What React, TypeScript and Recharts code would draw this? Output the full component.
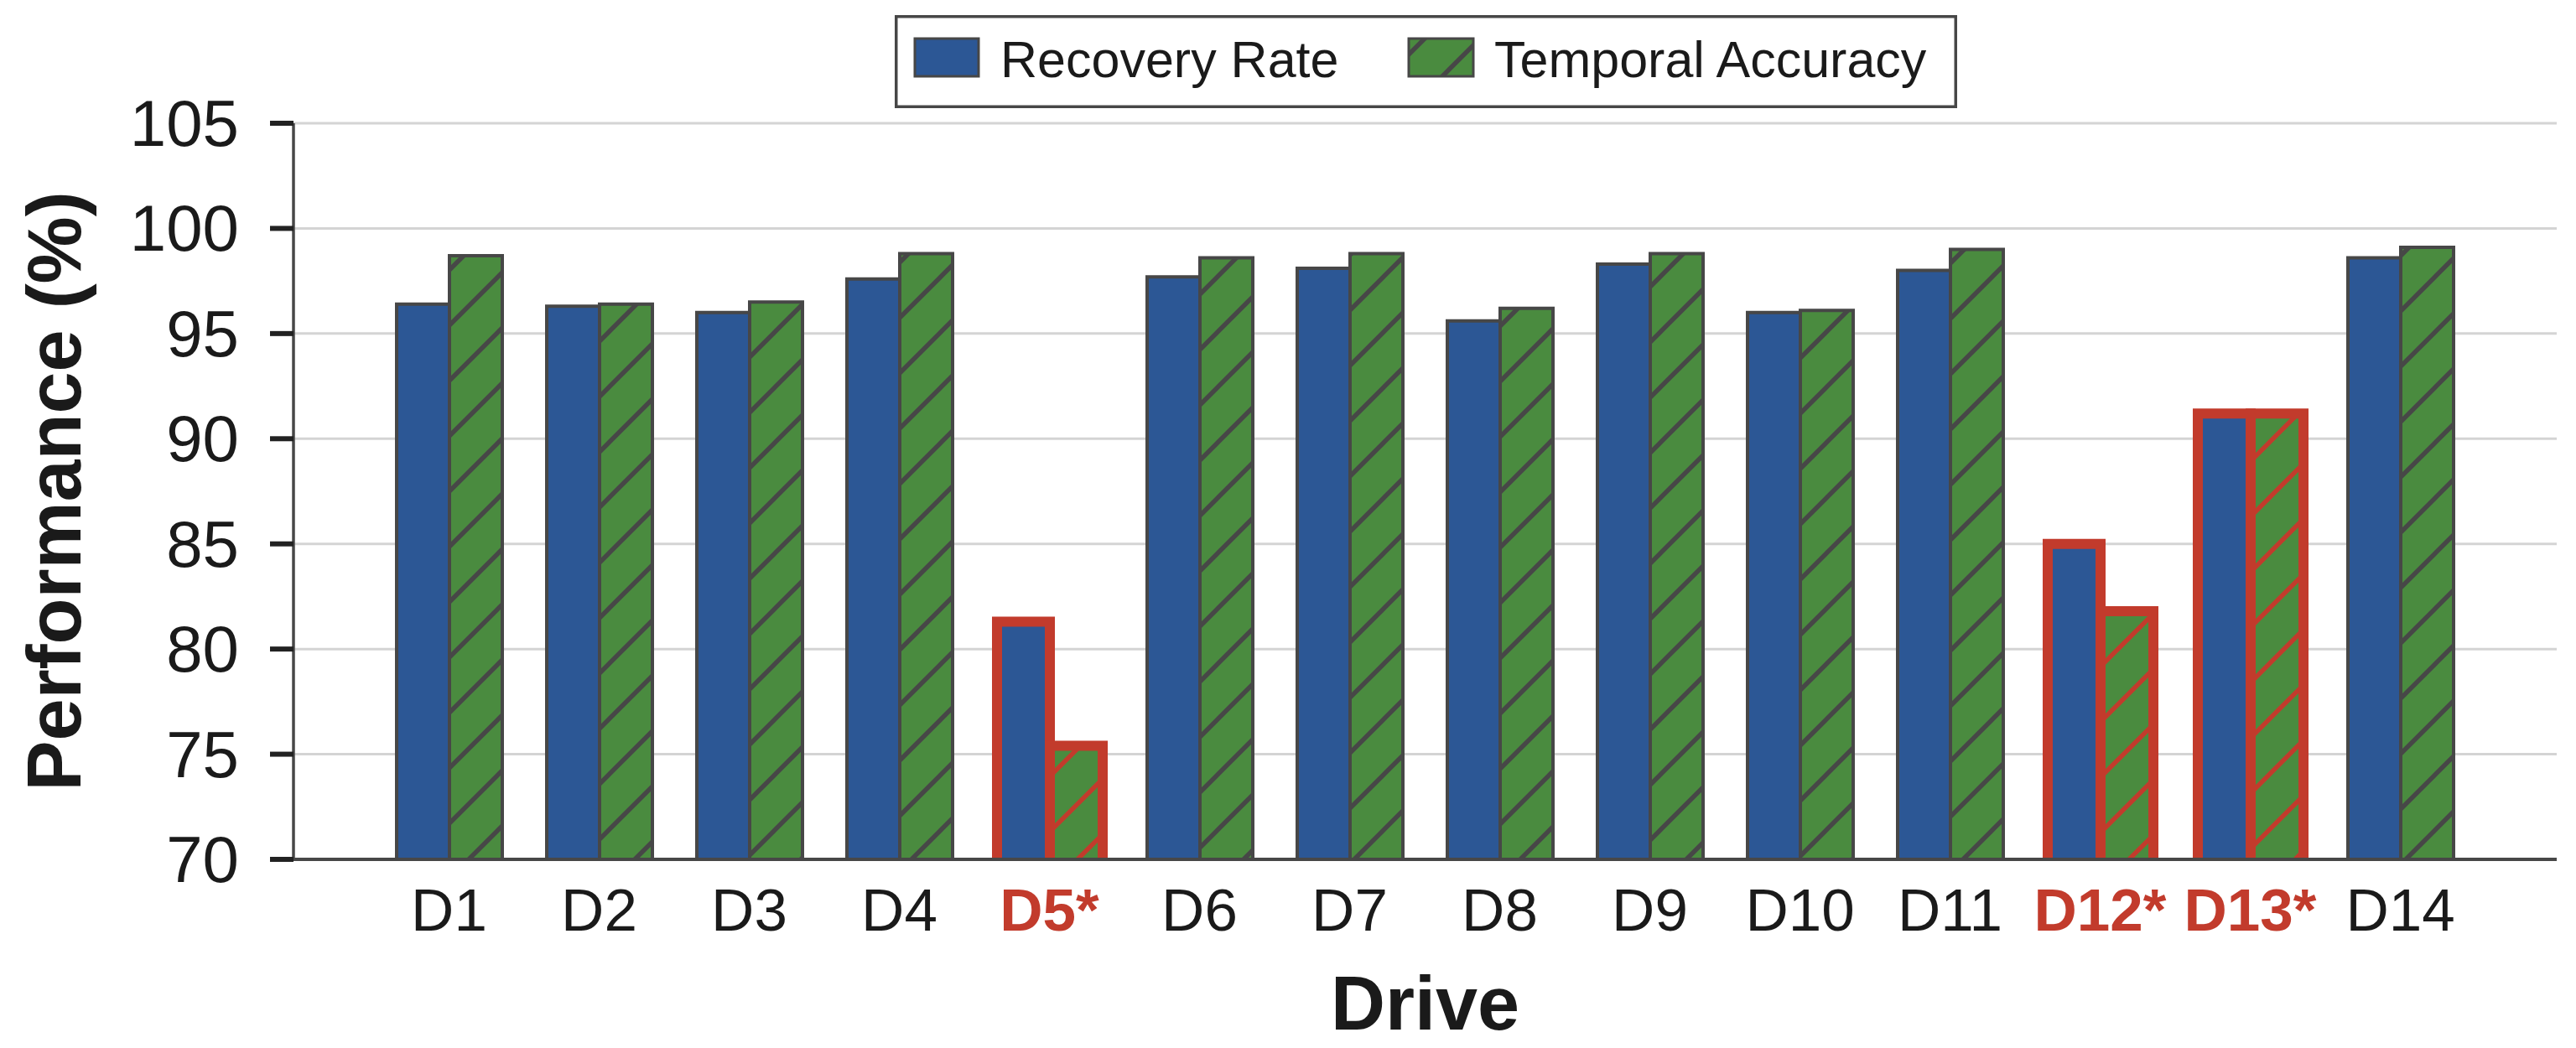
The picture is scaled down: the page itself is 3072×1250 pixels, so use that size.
import React from 'react';
import { BarChart, Bar, XAxis, YAxis, CartesianGrid } from 'recharts';

const drives = ['D1', 'D2', 'D3', 'D4', 'D5', 'D6', 'D7', 'D8', 'D9', 'D10', 'D11', 'D12', 'D13', 'D14'];
const recoveryRate = [96.4, 96.3, 96.0, 97.6, 81.3, 97.7, 98.1, 95.6, 98.3, 96.0, 98.0, 85.0, 91.2, 98.6];
const temporalAccuracy = [98.7, 96.4, 96.5, 98.8, 75.4, 98.6, 98.8, 96.2, 98.8, 96.1, 99.0, 81.8, 91.2, 99.1];
const flaggedDrives = ['D5', 'D12', 'D13'];
const yTicks = [70, 75, 80, 85, 90, 95, 100, 105];
const seriesNames = ['Recovery Rate', 'Temporal Accuracy'];

const BLUE = '#2c5795';
const GREEN = '#4a8b3f';
const EDGE = '#474747';
const RED = '#c23b2c';
const INK = '#1a1a1a';
const FONT = '"Liberation Sans", Arial, sans-serif';

const W = 3072;
const H = 1250;

const chartData = drives.map((drive, i) => ({
  drive,
  recovery: recoveryRate[i],
  temporal: temporalAccuracy[i],
  flagged: flaggedDrives.includes(drive),
}));

function HatchDefs() {
  const lines = 'M-16.5,16.5 L16.5,-16.5 M0,66 L66,0 M49.5,82.5 L82.5,49.5';
  return (
    <svg width={0} height={0} style={{ position: 'absolute' }}>
      <defs>
        <pattern id="hatchGrey" patternUnits="userSpaceOnUse" width={66} height={66}>
          <rect width={66} height={66} fill={GREEN} />
          <path d={lines} stroke={EDGE} strokeWidth={5.5} />
        </pattern>
        <pattern id="hatchRed" patternUnits="userSpaceOnUse" width={66} height={66}>
          <rect width={66} height={66} fill={GREEN} />
          <path d={lines} stroke={RED} strokeWidth={5.5} />
        </pattern>
      </defs>
    </svg>
  );
}

function BarShape(props: any) {
  const { x, y, width, height, payload, kind } = props;
  if (width == null || height == null) return null;
  const flagged = payload && payload.flagged;
  const fill = kind === 'rec' ? BLUE : `url(#${flagged ? 'hatchRed' : 'hatchGrey'})`;
  const bottom = y + height;
  return (
    <g>
      <rect x={x} y={y} width={width} height={height} fill={fill} />
      <path
        d={`M${x},${bottom} L${x},${y} L${x + width},${y} L${x + width},${bottom}`}
        fill="none"
        stroke={flagged ? RED : EDGE}
        strokeWidth={flagged ? 12 : 4}
      />
    </g>
  );
}

function XTick(props: any) {
  const { x, y, payload } = props;
  const flagged = flaggedDrives.includes(payload.value);
  return (
    <text
      x={x}
      y={y + 85}
      textAnchor="middle"
      fontFamily={FONT}
      fontSize={71}
      fontWeight={flagged ? 'bold' : 'normal'}
      fill={flagged ? RED : INK}
    >
      {flagged ? `${payload.value}*` : payload.value}
    </text>
  );
}

function YTick(props: any) {
  const { x, y, payload } = props;
  return (
    <text x={x} y={y} textAnchor="end" dominantBaseline="central" fontFamily={FONT} fontSize={78} fill={INK}>
      {payload.value}
    </text>
  );
}

function Legend() {
  return (
    <svg width={1267} height={111} style={{ position: 'absolute', left: 1067, top: 18 }}>
      <rect x={1.75} y={1.75} width={1263.5} height={107.5} fill="#fff" stroke={EDGE} strokeWidth={3.5} />
      <rect x={24} y={28} width={76} height={45} fill={BLUE} stroke={EDGE} strokeWidth={3} />
      <text x={126} y={74} fontFamily={FONT} fontSize={61} fill={INK}>
        {seriesNames[0]}
      </text>
      <rect x={613} y={28} width={77} height={45} fill="url(#hatchGrey)" stroke={EDGE} strokeWidth={3} />
      <text x={715} y={74} fontFamily={FONT} fontSize={61} fill={INK}>
        {seriesNames[1]}
      </text>
    </svg>
  );
}

export default function App() {
  return (
    <div style={{ position: 'absolute', left: 0, top: 0, width: W, height: H, background: '#fff' }}>
      <HatchDefs />
      <BarChart
        width={W}
        height={H}
        data={chartData}
        margin={{ top: 147, right: 23, left: 0, bottom: 0 }}
        barSize={63}
        barGap={0}
      >
        <CartesianGrid vertical={false} stroke="#d4d4d4" strokeWidth={3} />
        <Bar
          dataKey="recovery"
          name={seriesNames[0]}
          isAnimationActive={false}
          shape={(p: any) => <BarShape {...p} kind="rec" />}
        />
        <Bar
          dataKey="temporal"
          name={seriesNames[1]}
          isAnimationActive={false}
          shape={(p: any) => <BarShape {...p} kind="tmp" />}
        />
        <XAxis
          dataKey="drive"
          height={225}
          padding={{ left: 96, right: 97 }}
          tickLine={false}
          tickSize={0}
          tickMargin={0}
          axisLine={{ stroke: EDGE, strokeWidth: 4 }}
          tick={<XTick />}
          interval={0}
          label={{
            content: (lp: any) => {
              const vb = lp.viewBox || { x: 350, y: 1025, width: 2699, height: 225 };
              return (
                <text
                  x={vb.x + vb.width / 2}
                  y={vb.y + 203}
                  textAnchor="middle"
                  fontFamily={FONT}
                  fontSize={90}
                  fontWeight="bold"
                  fill={INK}
                >
                  Drive
                </text>
              );
            },
          }}
        />
        <YAxis
          type="number"
          domain={[70, 105]}
          ticks={yTicks}
          width={350}
          tickSize={28}
          tickMargin={37}
          tickLine={{ stroke: '#222', strokeWidth: 6 }}
          axisLine={{ stroke: EDGE, strokeWidth: 3.5 }}
          tick={<YTick />}
          interval={0}
          label={{
            content: (lp: any) => {
              const vb = lp.viewBox || { x: 0, y: 147, width: 350, height: 878 };
              const cx = 65;
              const cy = vb.y + vb.height / 2;
              return (
                <text
                  x={cx}
                  y={cy}
                  transform={`rotate(-90, ${cx}, ${cy})`}
                  textAnchor="middle"
                  dominantBaseline="central"
                  fontFamily={FONT}
                  fontSize={90}
                  fontWeight="bold"
                  fill={INK}
                >
                  Performance (%)
                </text>
              );
            },
          }}
        />
      </BarChart>
      <Legend />
    </div>
  );
}
